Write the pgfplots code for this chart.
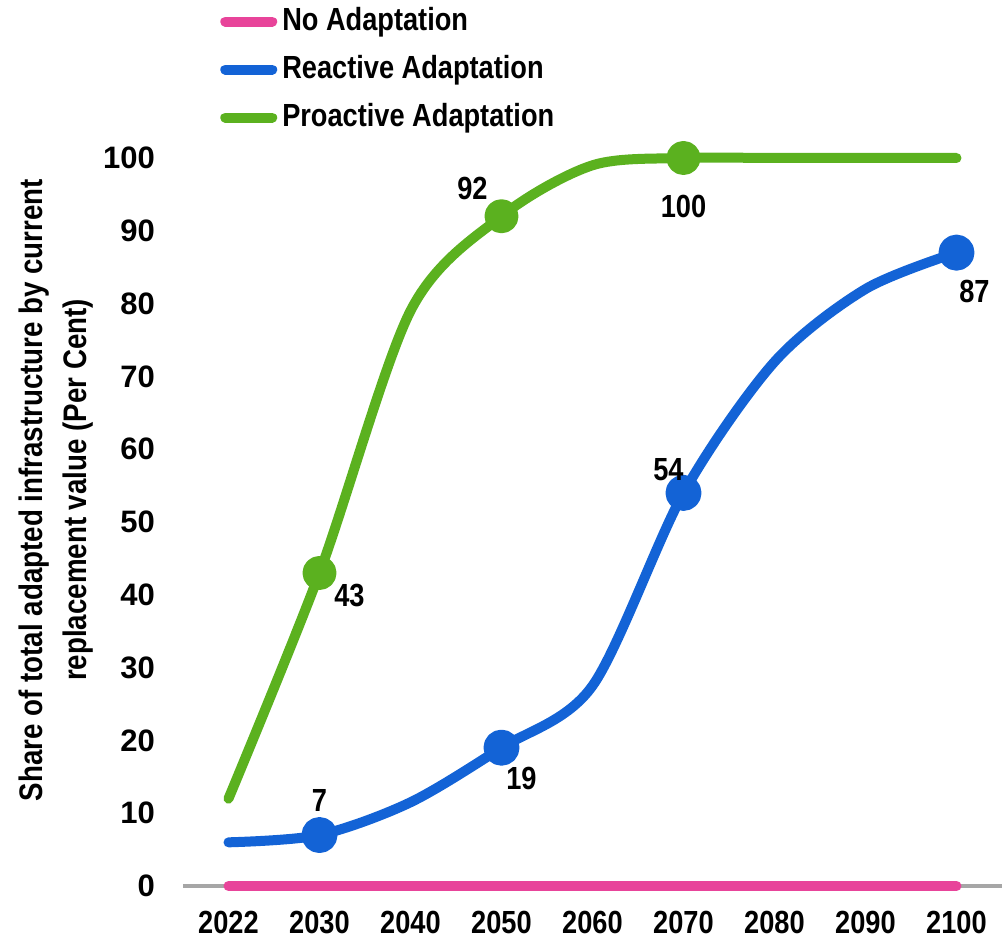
\documentclass[border=0pt]{standalone}
\usepackage{fontspec}
\setmainfont{Liberation Sans}[FakeStretch=0.85]
\newfontfamily\widefont{Liberation Sans}
\usepackage{pgfplots}
\usepackage{pgfplotstable}
\pgfplotsset{compat=1.18}

\definecolor{noadapt}{HTML}{E8449A}
\definecolor{reactive}{HTML}{1363D6}
\definecolor{proactive}{HTML}{5BB11F}
\definecolor{axisgrey}{HTML}{A6A6A6}

% full series, one value per year category (0 = 2022, ..., 8 = 2100)
\pgfplotstableread{
x  y
0  0
1  0
2  0
3  0
4  0
5  0
6  0
7  0
8  0
}\noadaptation
\pgfplotstableread{
x  y
0  6
1  7
2  11.5
3  19
4  27.5
5  54
6  72
7  82
8  87
}\reactive
\pgfplotstableread{
x  y
0  12
1  43
2  79
3  92
4  99
5  100
6  100
7  100
8  100
}\proactive

% labelled points, with label offsets (pt)
\pgfplotstableread{
x  y   dx    dy
1  7   0     17.5
3  19  10    -15.5
5  54  -7.5  11.5
8  87  9     -19.5
}\reactivemarks
\pgfplotstableread{
x  y    dx     dy
1  43   15     -11.5
3  92   -14.5  14
5  100  0      -24
}\proactivemarks

\begin{document}
\begin{tikzpicture}
\begin{axis}[
  scale only axis,
  width=409.5pt, height=364pt,
  xmin=-0.5, xmax=8.5, ymin=0, ymax=100,
  clip=false,
  axis line style={draw=none},
  major tick length=0pt,
  tick style={draw=none},
  xtick={0,...,8},
  xticklabels={2022,2030,2040,2050,2060,2070,2080,2090,2100},
  ytick={0,10,...,100},
  font=\fontsize{16}{19}\selectfont\bfseries,
  xticklabel style={font=\fontsize{16}{19}\selectfont\bfseries, yshift=-9pt},
  yticklabel style={font=\widefont\fontsize{15.5}{19}\selectfont\bfseries, anchor=east, xshift=-10.5pt},
  /pgf/number format/assume math mode=true,
  ylabel={Share of total adapted infrastructure by current\\replacement value (Per Cent)},
  every axis y label/.style={at={(axis description cs:-0.155,0.544)}, rotate=90, anchor=center, align=center, font=\fontsize{16.3}{22}\selectfont\bfseries},
  legend style={draw=none, fill=none, at={(axis description cs:0.045,1.212)}, anchor=north west,
    font=\fontsize{16}{19}\selectfont\bfseries, inner xsep=0pt, inner ysep=0pt, row sep=6.5pt,
    nodes={inner sep=1pt, text height=12pt, text depth=3.5pt}},
  legend cell align=left,
  legend image code/.code={\draw[#1, line width=5pt, line cap=round] (2.5pt,0pt) -- (26pt,0pt);},
  every axis plot/.append style={line width=5pt, line cap=round, line join=round},
]
  \draw[axisgrey, line width=2pt] (rel axis cs:0,0) -- (rel axis cs:1,0);

  \addplot[noadapt, no marks] table[x=x, y=y] {\noadaptation};
  \addlegendentry{\hspace{1.5pt}No Adaptation}
  \addplot[reactive, no marks, smooth] table[x=x, y=y] {\reactive};
  \addlegendentry{\hspace{1.5pt}Reactive Adaptation}
  \addplot[proactive, no marks, smooth] table[x=x, y=y] {\proactive};
  \addlegendentry{\hspace{1.5pt}Proactive Adaptation}

  \addplot[reactive, only marks, mark=*, mark size=6.5pt, forget plot,
    visualization depends on={\thisrow{dx} \as \dx},
    visualization depends on={\thisrow{dy} \as \dy},
    nodes near coords={\pgfmathprintnumber{\pgfplotspointmeta}},
    point meta=y,
    nodes near coords style={black, anchor=center, xshift=\dx pt, yshift=\dy pt,
      font=\fontsize{16}{19}\selectfont\bfseries}]
    table[x=x, y=y] {\reactivemarks};
  \addplot[proactive, only marks, mark=*, mark size=6pt, forget plot,
    visualization depends on={\thisrow{dx} \as \dx},
    visualization depends on={\thisrow{dy} \as \dy},
    nodes near coords={\pgfmathprintnumber{\pgfplotspointmeta}},
    point meta=y,
    nodes near coords style={black, anchor=center, xshift=\dx pt, yshift=\dy pt,
      font=\fontsize{16}{19}\selectfont\bfseries}]
    table[x=x, y=y] {\proactivemarks};
\end{axis}
\pgfresetboundingbox
\useasboundingbox (-91.5pt,-28.5pt) rectangle (410.5pt,443pt);
\end{tikzpicture}
\end{document}
